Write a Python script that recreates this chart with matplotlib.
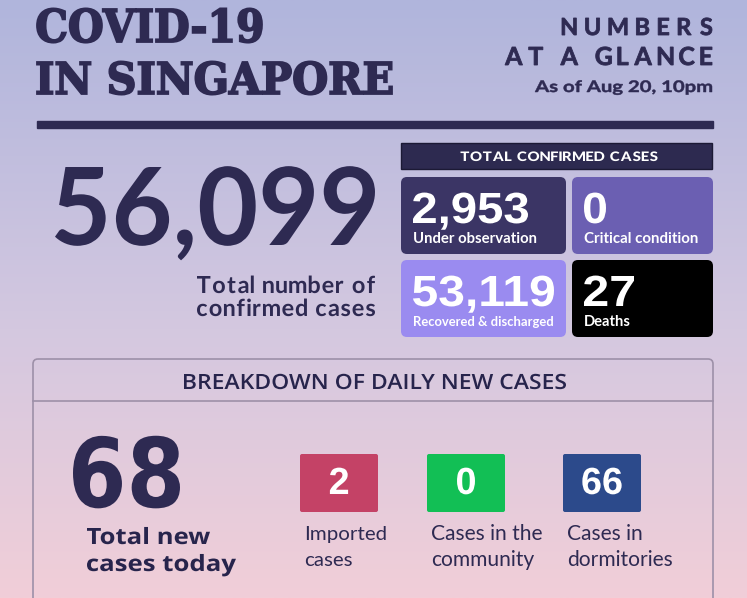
import numpy as np
import matplotlib
matplotlib.use('Agg')
import matplotlib.pyplot as plt
from matplotlib.patches import FancyBboxPatch, Rectangle, PathPatch
from matplotlib.textpath import TextPath
from matplotlib.font_manager import FontProperties
from matplotlib.path import Path

# headline numbers
total_cases = '56,099'
new_today = '68'
as_of = 'As of Aug 20, 10pm'

# total confirmed breakdown (2x2 grid)
status_values = ['2,953', '0', '53,119', '27']
status_labels = ['Under observation', 'Critical condition', 'Recovered & discharged', 'Deaths']
status_colors = ['#3b3565', '#6b5fb2', '#9a8bf0', '#000000']

# daily new cases breakdown
daily_values = ['2', '0', '66']
daily_labels = ['Imported\ncases', 'Cases in the\ncommunity', 'Cases in\ndormitories']
daily_colors = ['#c44266', '#12bf55', '#2c4a8b']

INK = '#2e2a52'
W, H = 747, 598

fig = plt.figure(figsize=(W / 100, H / 100), dpi=100)
ax = fig.add_axes([0, 0, 1, 1])
ax.set_xlim(0, W)
ax.set_ylim(H, 0)
ax.axis('off')

# background gradient lavender -> pink
top = np.array([176, 181, 220]) / 255
mid = np.array([212, 200, 224]) / 255
bot = np.array([241, 206, 216]) / 255
t = np.linspace(0, 1, 300)[:, None]
grad = np.where(t < 0.55, top + (mid - top) * (t / 0.55), mid + (bot - mid) * ((t - 0.55) / 0.45))
ax.imshow(grad[:, None, :], extent=[0, W, H, 0], aspect='auto', zorder=0)

renderer = fig.canvas.get_renderer()


def fit_text(x, y, s, width, ha='left', va='baseline', **kw):
    """ place text and scale its size so it spans the given pixel width """
    txt = ax.text(x, y, s, ha=ha, va=va, fontsize=20, **kw)
    w = txt.get_window_extent(renderer).width
    txt.set_fontsize(20 * width / w)
    return txt


def path_text(s, x, base, cap, width=None, ha='left', family='Lato', weight='bold',
              color=INK, track=None, space=0.5, stroke=0.0, zorder=3):
    """ draw text as a path with given cap height (px) and optional ink width (px)
        track='fit' spaces the glyphs out to reach the width instead of stretching """
    fp = FontProperties(family=family, weight=weight)
    ch = TextPath((0, 0), 'H', size=100, prop=fp).get_extents().y1
    sy = cap / ch
    if track is None:
        p = TextPath((0, 0), s, size=100, prop=fp)
        verts, codes = p.vertices.copy(), p.codes
    else:
        glyphs = [TextPath((0, 0), c, size=100, prop=fp) for c in s if c != ' ']
        ink = sum(g.get_extents().width for g in glyphs)
        n_sp = s.count(' ')
        if track == 'fit':
            gap = (width / sy - ink - n_sp * space * ch) / (len(glyphs) - 1 + n_sp)
            width = None
        else:
            gap = track * ch
        vs, cs, cursor, k = [], [], 0.0, 0
        for c in s:
            if c == ' ':
                cursor += space * ch + gap
                continue
            p = glyphs[k]
            k += 1
            e = p.get_extents()
            v = p.vertices.copy()
            v[:, 0] += cursor - e.x0
            vs.append(v)
            cs.append(p.codes)
            cursor += e.width + gap
        verts, codes = np.vstack(vs), np.concatenate(cs)
    real = codes != Path.CLOSEPOLY
    x0, x1 = verts[real, 0].min(), verts[real, 0].max()
    sx = width / (x1 - x0) if width else sy
    tw = (x1 - x0) * sx
    left = {'left': x, 'right': x - tw, 'center': x - tw / 2}[ha]
    out = np.column_stack([(verts[:, 0] - x0) * sx + left, base - verts[:, 1] * sy])
    ax.add_patch(PathPatch(Path(out, codes), facecolor=color,
                           edgecolor=color if stroke else 'none', lw=stroke, zorder=zorder))


# title block
path_text('COVID-19', 37, 42, 33, width=225, family='DejaVu Serif', weight='bold', stroke=1.3)
path_text('IN SINGAPORE', 37, 94, 32, width=355, family='DejaVu Serif', weight='bold', stroke=1.3)
path_text('NUMBERS', 712, 35, 17, width=150, ha='right', track='fit', stroke=0.6)
path_text('AT A GLANCE', 712, 65, 18, width=207, ha='right', track='fit', space=0.3, stroke=0.6)
path_text(as_of, 712, 92, 11.5, width=177, ha='right', stroke=0.35)
ax.add_patch(Rectangle((37, 121), 676, 6.5, color=INK, zorder=2))

# big total
path_text(total_cases, 55, 245, 78, width=320)
path_text('Total number of', 375, 293, 17, width=178, ha='right', track='fit', space=0.25)
path_text('confirmed cases', 375, 316, 17, width=178, ha='right', track='fit', space=0.25)

# total confirmed header bar
ax.add_patch(Rectangle((401, 143), 311, 26, facecolor='#2d2a50', edgecolor='#1c1a35', lw=1, zorder=2))
path_text('TOTAL CONFIRMED CASES', 559, 161, 9.5, width=197, ha='center', weight='black',
          color='white', track=0.12, space=0.3)

# 2x2 status grid
xs = [401, 572, 401, 572]
ys = [177, 177, 260, 260]
ws = [165, 141, 165, 141]
num_w = [115, 22, 141, 50]
lab_w = [124, 114, 140, 47]
for i in range(4):
    ax.add_patch(FancyBboxPatch((xs[i] + 4, ys[i] + 4), ws[i] - 8, 69,
                                boxstyle='round,pad=4,rounding_size=6',
                                facecolor=status_colors[i], edgecolor='none', zorder=2))
    path_text(status_values[i], xs[i] + 12, ys[i] + 46, 30, width=num_w[i],
              family='Liberation Sans', color='white')
    fit_text(xs[i] + 12, ys[i] + 66, status_labels[i], lab_w[i], family='Lato',
             weight='bold', color='white', zorder=3)

# breakdown panel
ax.add_patch(FancyBboxPatch((33, 359), 680, 300, boxstyle='round,pad=0,rounding_size=5',
                            facecolor='none', edgecolor='#9d90a8', lw=1.2, zorder=2))
ax.plot([33, 713], [400.5, 400.5], color='#9d90a8', lw=1.2, zorder=2)
path_text('BREAKDOWN OF DAILY NEW CASES', 375, 389, 15, width=382, ha='center',
          family='Open Sans', weight='semibold', color='#27244c')

path_text(new_today, 73, 507, 70, width=107, family='Liberation Sans Narrow')
path_text('Total new', 87, 544, 16, width=123, family='Open Sans', color='#27244c')
path_text('cases today', 87, 571, 16, width=149, family='Open Sans', color='#27244c')

bx = [300, 427, 563]
first_w = [83, 112, 76]
for i in range(3):
    ax.add_patch(FancyBboxPatch((bx[i] + 1, 455), 76, 56, boxstyle='round,pad=1,rounding_size=2',
                                facecolor=daily_colors[i], edgecolor='none', zorder=2))
    path_text(daily_values[i], bx[i] + 39, 494, 26, ha='center', family='Liberation Sans',
              color='white')
    first, second = daily_labels[i].split('\n')
    t1 = fit_text(bx[i] + 4, 540, first, first_w[i], family='Lato', color=INK)
    ax.text(bx[i] + 4, 566, second, fontsize=t1.get_fontsize(), family='Lato', color=INK,
            va='baseline')

fig.savefig('out.png', dpi=100)
